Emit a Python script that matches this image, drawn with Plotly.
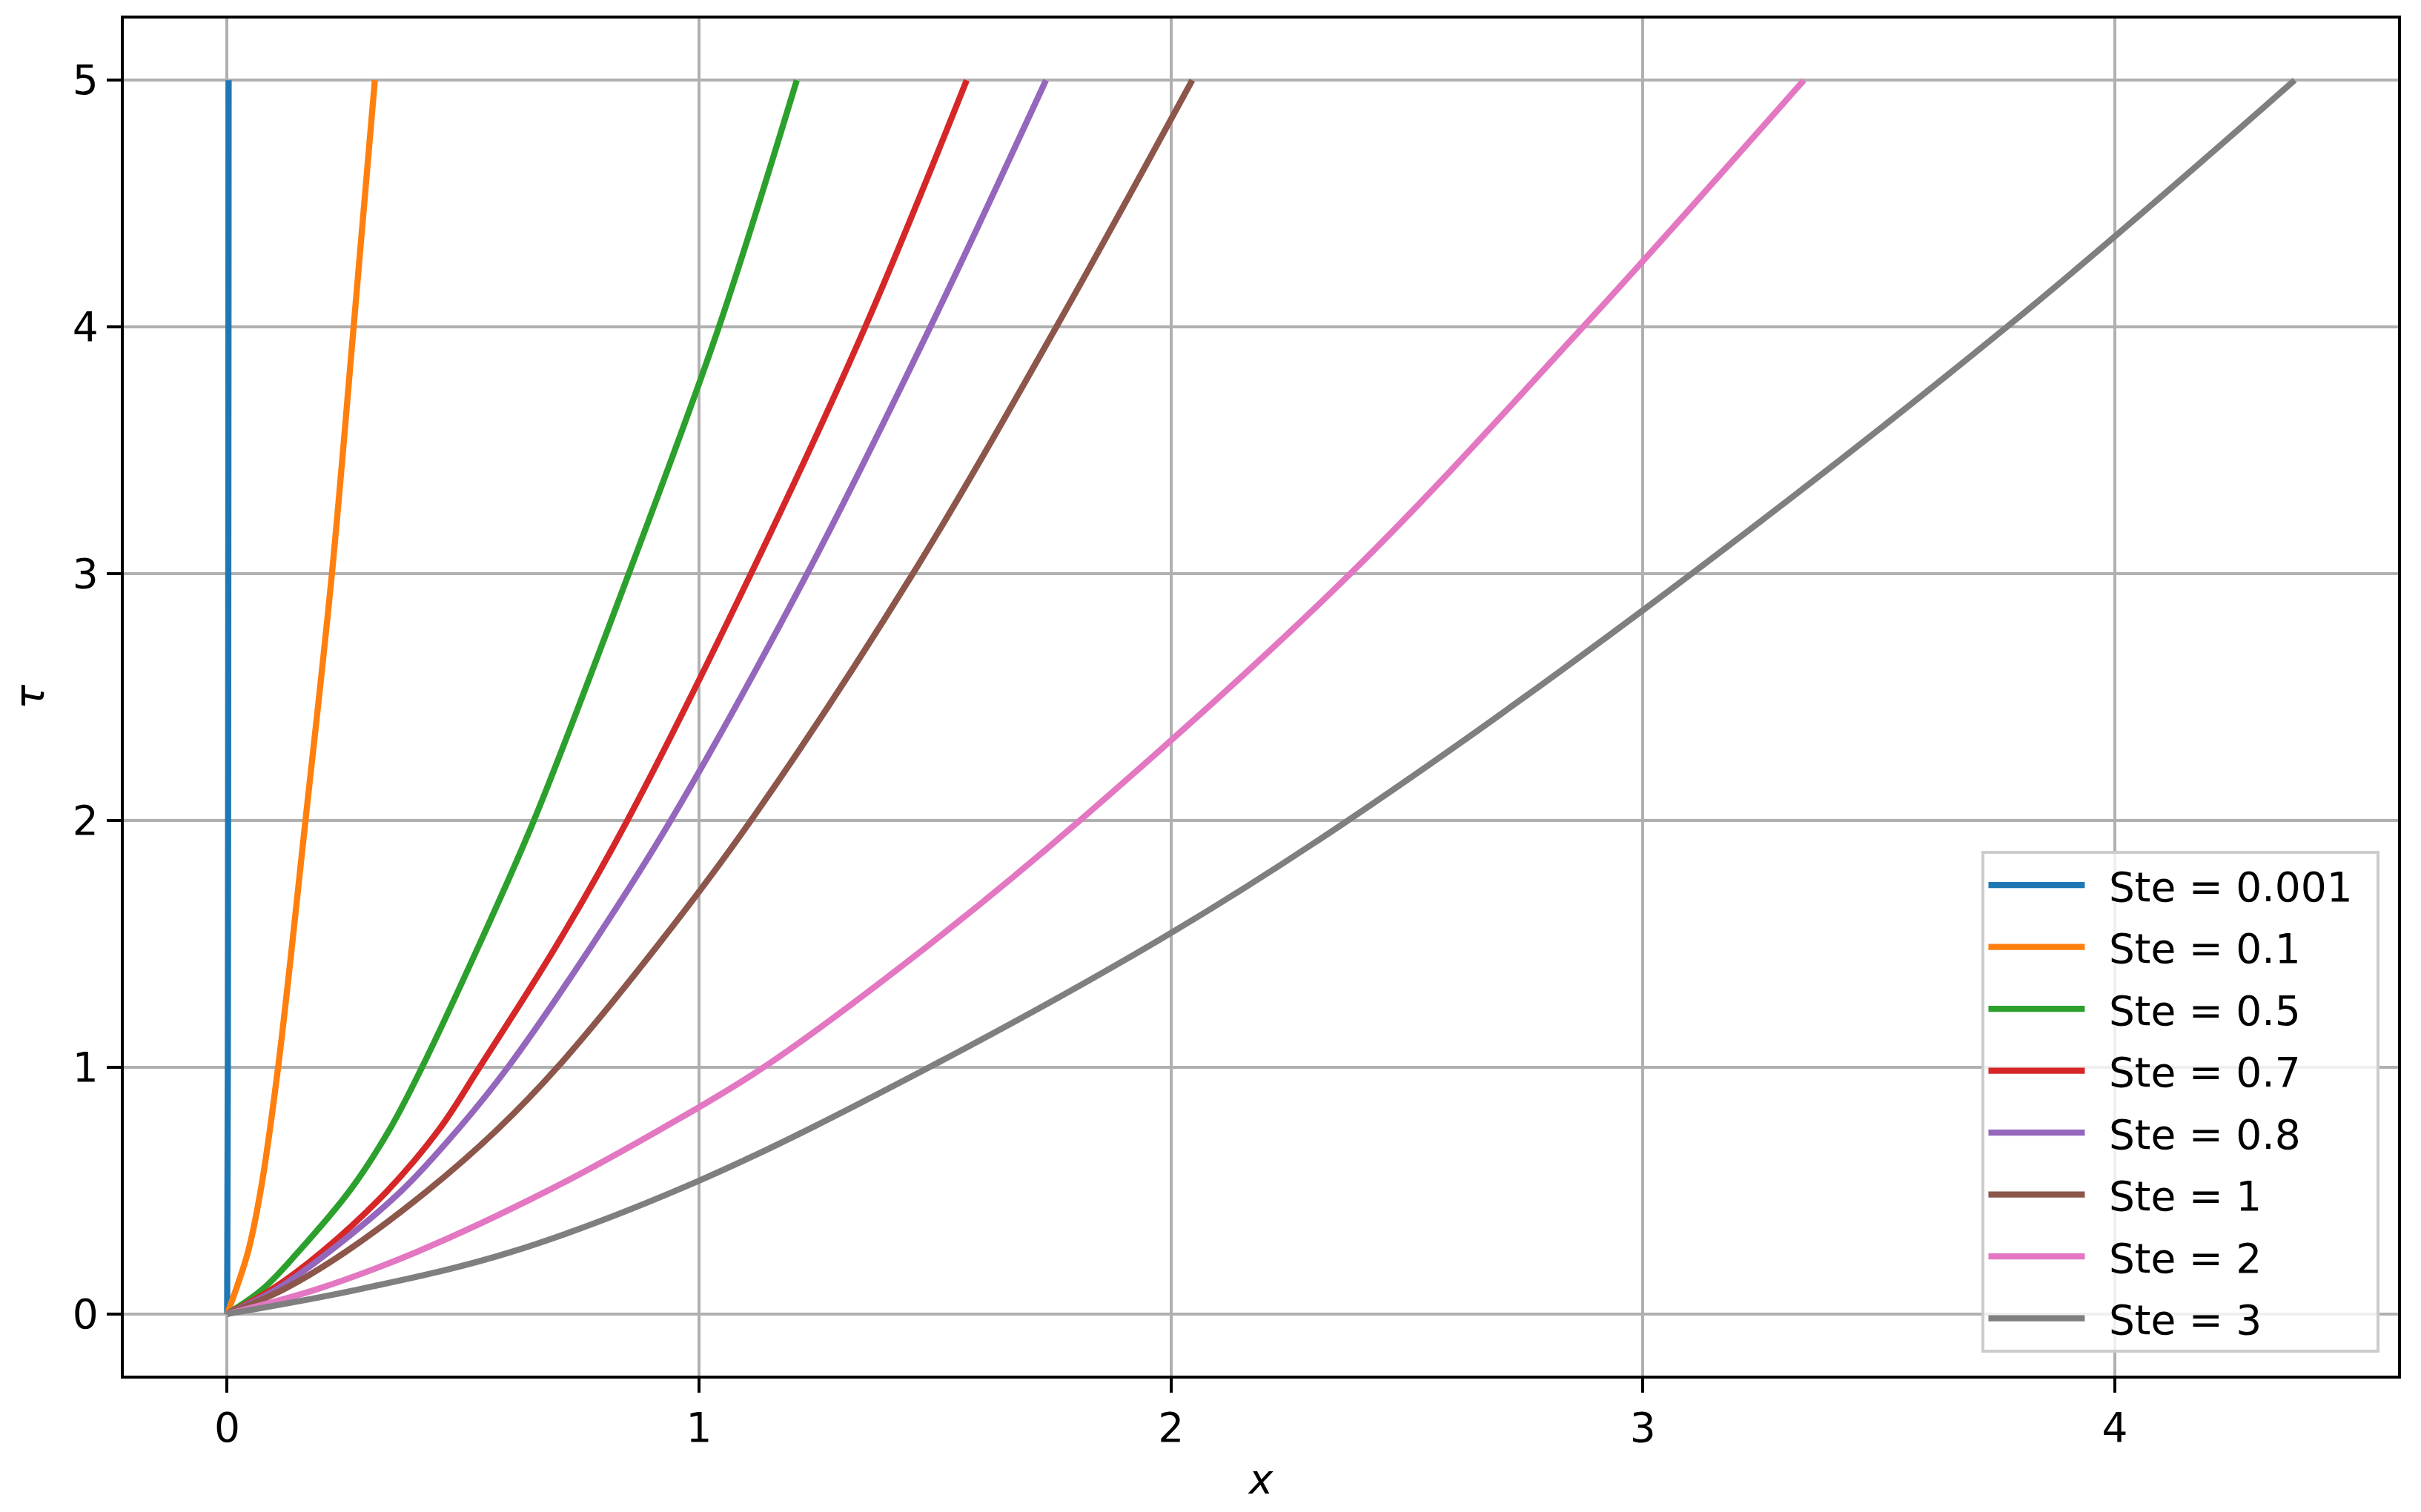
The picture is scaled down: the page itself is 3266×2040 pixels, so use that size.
import plotly.graph_objects as go

# --- data: front position x and time tau ---
labels = ["Ste = 0.001", "Ste = 0.1", "Ste = 0.5", "Ste = 0.7",
          "Ste = 0.8", "Ste = 1", "Ste = 2", "Ste = 3"]
colors = ["#1f77b4", "#ff7f0e", "#2ca02c", "#d62728",
          "#9467bd", "#8c564b", "#e377c2", "#7f7f7f"]

x_blue = [0.0, 0.0014, 0.002, 0.0024, 0.0028, 0.0031]
t_blue = [0, 1, 2, 3, 4, 5]

x_orange = [0.0, 0.044, 0.071, 0.108, 0.166, 0.222, 0.268, 0.313]
t_orange = [0, 0.25, 0.5, 1, 2, 3, 4, 5]

x_green = [0.0, 0.075, 0.15, 0.26, 0.345, 0.413, 0.535, 0.65, 0.851, 1.042, 1.207]
t_green = [0, 0.1, 0.25, 0.5, 0.75, 1, 1.5, 2, 3, 4, 5]

x_red = [0.0, 0.095, 0.2, 0.34, 0.45, 0.535, 0.70, 0.848, 1.11, 1.352, 1.567]
t_red = [0, 0.1, 0.25, 0.5, 0.75, 1, 1.5, 2, 3, 4, 5]

x_purple = [0.0, 0.105, 0.215, 0.37, 0.49, 0.595, 0.775, 0.94, 1.229, 1.49, 1.735]
t_purple = [0, 0.1, 0.25, 0.5, 0.75, 1, 1.5, 2, 3, 4, 5]

x_brown = [0.0, 0.12, 0.25, 0.425, 0.574, 0.70, 0.915, 1.11, 1.453, 1.757, 2.045]
t_brown = [0, 0.1, 0.25, 0.5, 0.75, 1, 1.5, 2, 3, 4, 5]

x_pink = [0.0, 0.19, 0.40, 0.68, 0.92, 1.137, 1.49, 1.807, 2.38, 2.873, 3.341]
t_pink = [0, 0.1, 0.25, 0.5, 0.75, 1, 1.5, 2, 3, 4, 5]

x_gray = [0.0, 0.28, 0.60, 1.0, 1.488, 2.0, 2.375, 3.0, 3.771, 4.381]
t_gray = [0, 0.1, 0.25, 0.54, 1, 1.544, 2, 2.852, 4, 5]

series = [
    (x_blue, t_blue),
    (x_orange, t_orange),
    (x_green, t_green),
    (x_red, t_red),
    (x_purple, t_purple),
    (x_brown, t_brown),
    (x_pink, t_pink),
    (x_gray, t_gray),
]

x_ticks = [0, 1, 2, 3, 4]
y_ticks = [0, 1, 2, 3, 4, 5]

FONT = "DejaVu Sans"
FS = 55
PAD = "\u2002"

fig = go.Figure()
for i, ((xs, ts), lab, col) in enumerate(zip(series, labels, colors)):
    fig.add_trace(go.Scatter(
        x=xs, y=ts, mode="lines", name=PAD + lab + PAD,
        line=dict(color=col, width=8.3, shape="spline", smoothing=1.0),
        legendgroup=f"g{i}",
    ))

axis_common = dict(
    showgrid=True, gridcolor="#b0b0b0", gridwidth=4.4,
    zeroline=False,
    showline=True, linecolor="black", linewidth=4.4, mirror=True,
    ticks="outside", ticklen=19, tickwidth=4.4, tickcolor="black",
    tickfont=dict(family=FONT, size=FS, color="black"),
)

fig.update_xaxes(range=[-0.219, 4.600], tickvals=x_ticks,
                 ticktext=[str(v) for v in x_ticks],
                 title=dict(text="<i>x</i>", font=dict(family=FONT, size=FS, color="black"), standoff=20),
                 **axis_common)
fig.update_yaxes(range=[-0.25, 5.25], tickvals=y_ticks,
                 ticktext=[str(v) for v in y_ticks],
                 title=dict(text="<i>τ</i>", font=dict(family=FONT, size=FS, color="black"), standoff=34),
                 **axis_common)

fig.update_layout(
    width=3250, height=2024,
    margin=dict(l=159, r=23, t=17, b=176, autoexpand=False),
    paper_bgcolor="white", plot_bgcolor="white",
    font=dict(family=FONT, size=FS, color="black"),
    showlegend=True,
    legend=dict(
        x=0.992, xanchor="right", y=0.017, yanchor="bottom",
        bgcolor="rgba(255,255,255,0.8)", bordercolor="#cccccc", borderwidth=4,
        font=dict(family=FONT, size=FS, color="black"),
        itemwidth=130, tracegroupgap=9,
    ),
)

fig.write_html("out.html")
